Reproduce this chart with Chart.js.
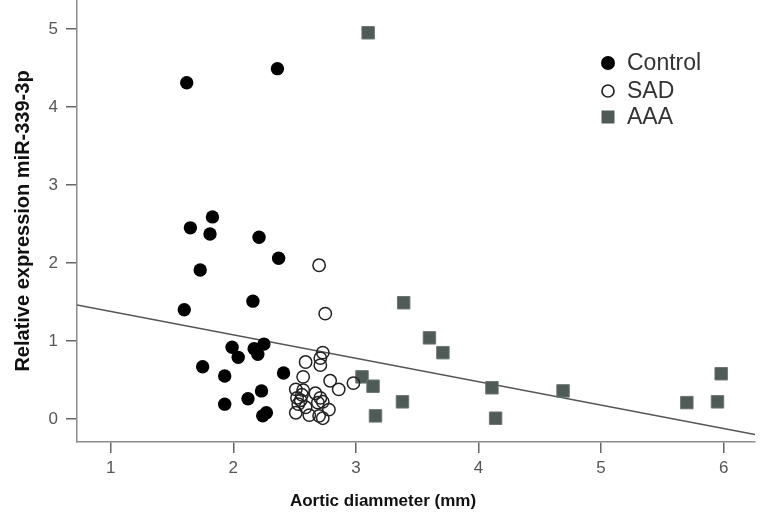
<!DOCTYPE html>
<html>
<head>
<meta charset="utf-8">
<script src="https://cdn.jsdelivr.net/npm/chart.js@4.4.1/dist/chart.umd.min.js"></script>
<style>
    html, body { margin: 0; padding: 0; background: #ffffff; }
    #chart { display: block; }
</style>
</head>
<body>
<canvas id="chart" width="760" height="528"></canvas>
<script>
    // Control group (filled circles)
    const controlX = [1.62, 2.36, 1.65, 1.83, 1.81, 2.21, 1.73, 2.37, 1.60, 2.16,
                      1.99, 2.04, 2.17, 2.20, 2.25, 1.75, 1.93, 2.41, 2.23, 1.93,
                      2.12, 2.24, 2.27];
    const controlY = [4.31, 4.49, 2.45, 2.59, 2.37, 2.33, 1.91, 2.06, 1.40, 1.51,
                      0.92, 0.79, 0.90, 0.83, 0.96, 0.67, 0.55, 0.59, 0.36, 0.19,
                      0.26, 0.04, 0.08];

    // SAD group (open circles)
    const sadX = [2.70, 2.75, 2.73, 2.71, 2.71, 2.59, 2.57, 2.79, 2.86, 2.98,
                  2.51, 2.57, 2.67, 2.52, 2.55, 2.53, 2.71, 2.69, 2.73, 2.78,
                  2.51, 2.62, 2.70, 2.73, 2.59, 2.56];
    const sadY = [1.97, 1.35, 0.85, 0.78, 0.69, 0.73, 0.54, 0.49, 0.38, 0.46,
                  0.38, 0.37, 0.33, 0.27, 0.24, 0.19, 0.27, 0.21, 0.22, 0.12,
                  0.08, 0.05, 0.04, 0.01, 0.15, 0.31];

    // AAA group (squares)
    const aaaX = [3.10, 3.39, 3.60, 3.71, 3.05, 3.14, 3.38, 3.16, 4.11, 4.14,
                  4.69, 5.70, 5.95, 5.98];
    const aaaY = [4.95, 1.49, 1.04, 0.85, 0.54, 0.42, 0.22, 0.04, 0.40, 0.01,
                  0.36, 0.21, 0.22, 0.58];

    // fit line end points
    const fitX = [0.725, 6.256];
    const fitY = [1.46, -0.20];

    const xTicks = [1, 2, 3, 4, 5, 6];
    const yTicks = [0, 1, 2, 3, 4, 5];

    const groupLabels = ['Control', 'SAD', 'AAA'];

    const toPoints = (xs, ys) => xs.map((x, i) => ({ x: x, y: ys[i] }));

    const FONT = 'Arial, "Liberation Sans", sans-serif';
    const AXIS_GREY = '#8c8c8c';
    const SQUARE = '#4e5b56';

    /**
     * Legend drawn inside the plot, top right, stacked vertically
     */
    const sideLegend = {
        id: 'sideLegend',
        afterDraw(chart) {
            const ctx = chart.ctx;
            const mx = 608, tx = 627;
            const rows = [63, 91, 117];
            ctx.save();
            ctx.font = '23px ' + FONT;
            ctx.fillStyle = '#333333';
            ctx.textBaseline = 'middle';
            ctx.textAlign = 'left';
            groupLabels.forEach((label, i) => {
                const y = rows[i];
                ctx.save();
                if (i === 0) {
                    ctx.fillStyle = '#000000';
                    ctx.beginPath();
                    ctx.arc(mx, y, 7, 0, Math.PI * 2);
                    ctx.fill();
                } else if (i === 1) {
                    ctx.strokeStyle = '#222222';
                    ctx.lineWidth = 1.7;
                    ctx.beginPath();
                    ctx.arc(mx, y, 6, 0, Math.PI * 2);
                    ctx.stroke();
                } else {
                    ctx.fillStyle = SQUARE;
                    ctx.fillRect(mx - 6.5, y - 6.5, 13, 13);
                }
                ctx.restore();
                ctx.fillText(label, tx, y + 1);
            });
            ctx.restore();
        }
    };

    /**
     * X axis title, placed a bit left of centre as in the original
     */
    const xTitle = {
        id: 'xTitle',
        afterDraw(chart) {
            const ctx = chart.ctx;
            ctx.save();
            ctx.font = 'bold 17px ' + FONT;
            ctx.fillStyle = '#111111';
            ctx.textAlign = 'center';
            ctx.textBaseline = 'middle';
            ctx.fillText('Aortic diammeter (mm)', chart.chartArea.left + 306, 501);
            ctx.restore();
        }
    };

    new Chart(document.getElementById('chart'), {
        type: 'scatter',
        data: {
            datasets: [{
                label: groupLabels[0],
                data: toPoints(controlX, controlY),
                pointStyle: 'circle',
                pointRadius: 6.7,
                pointBackgroundColor: '#000000',
                pointBorderColor: '#000000',
                pointBorderWidth: 0
            }, {
                label: groupLabels[1],
                data: toPoints(sadX, sadY),
                pointStyle: 'circle',
                pointRadius: 6.2,
                pointBackgroundColor: 'rgba(255,255,255,0)',
                pointBorderColor: '#222222',
                pointBorderWidth: 1.5
            }, {
                label: groupLabels[2],
                data: toPoints(aaaX, aaaY),
                pointStyle: 'rect',
                pointRadius: 8.8,
                pointBackgroundColor: SQUARE,
                pointBorderColor: '#6a7571',
                pointBorderWidth: 1
            }, {
                label: 'Fit',
                type: 'line',
                data: toPoints(fitX, fitY),
                showLine: true,
                pointRadius: 0,
                borderColor: '#555555',
                borderWidth: 1.5,
                fill: false
            }]
        },
        options: {
            responsive: false,
            animation: false,
            layout: {
                autoPadding: false,
                padding: { top: 0, right: 5, bottom: 0, left: 0 }
            },
            plugins: {
                legend: { display: false },
                tooltip: { enabled: false }
            },
            scales: {
                x: {
                    type: 'linear',
                    min: 0.725,
                    max: 6.256,
                    afterFit: function(scale) {
                        scale.height = 86;
                        scale.paddingLeft = 0;
                        scale.paddingRight = 0;
                    },
                    afterBuildTicks: function(scale) {
                        scale.ticks = xTicks.map(v => ({ value: v }));
                    },
                    border: { display: true, color: AXIS_GREY, width: 1.5 },
                    grid: {
                        drawOnChartArea: false,
                        drawTicks: true,
                        tickLength: 11,
                        color: '#666666',
                        lineWidth: 1.5
                    },
                    ticks: {
                        padding: 5,
                        color: '#555555',
                        font: { family: FONT, size: 17 },
                        maxRotation: 0
                    },
                    title: { display: false }
                },
                y: {
                    type: 'linear',
                    min: -0.295,
                    max: 5.37,
                    afterFit: function(scale) {
                        scale.width = 77;
                        scale.paddingTop = 0;
                        scale.paddingBottom = 0;
                    },
                    afterBuildTicks: function(scale) {
                        scale.ticks = yTicks.map(v => ({ value: v }));
                    },
                    border: { display: true, color: AXIS_GREY, width: 1.5 },
                    grid: {
                        drawOnChartArea: false,
                        drawTicks: true,
                        tickLength: 11,
                        color: '#666666',
                        lineWidth: 1.5
                    },
                    ticks: {
                        padding: 8,
                        color: '#555555',
                        font: { family: FONT, size: 17 }
                    },
                    title: {
                        display: true,
                        text: 'Relative expression miR-339-3p',
                        color: '#111111',
                        font: { family: FONT, size: 20, weight: 'bold' },
                        padding: { top: 11, bottom: 0 }
                    }
                }
            }
        },
        plugins: [sideLegend, xTitle]
    });
</script>
</body>
</html>
